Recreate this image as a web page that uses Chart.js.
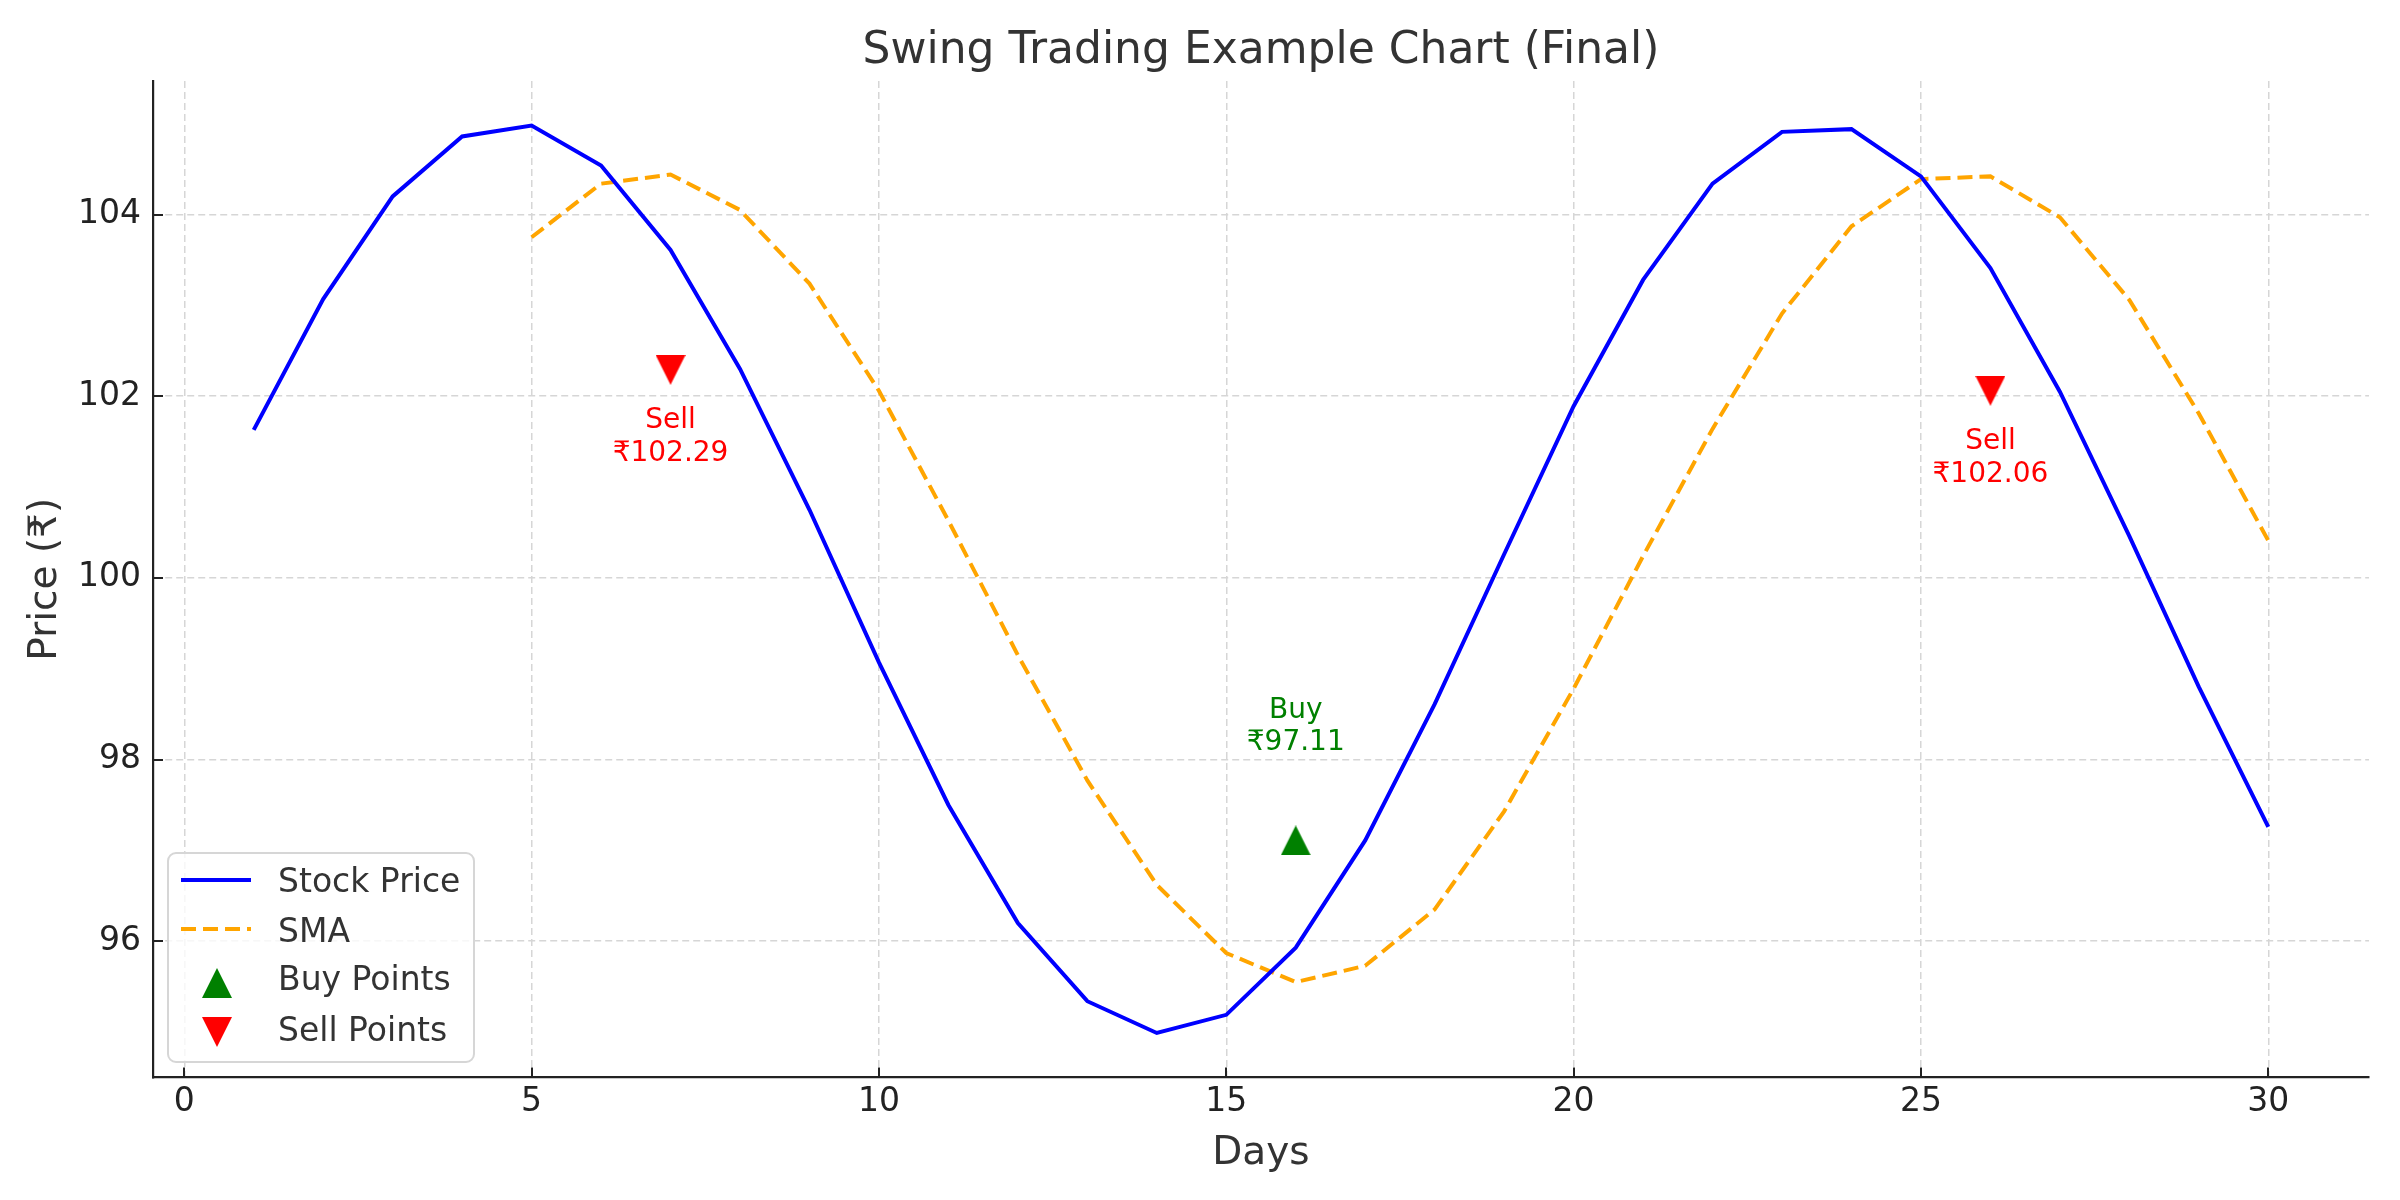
<!DOCTYPE html>
<html lang="en">
<head>
    <meta charset="UTF-8">
    <title>Swing Trading Example Chart (Final)</title>
    <script src="https://cdn.jsdelivr.net/npm/chart.js"></script>
    <style>
        html, body { margin: 0; padding: 0; background: #fff; }
        #wrap { width: 2400px; height: 1200px; }
    </style>
</head>
<body>
    <div id="wrap">
        <canvas id="swingChart" width="2400" height="1200"></canvas>
    </div>

    <script>
        // Data
        const days = [1, 2, 3, 4, 5, 6, 7, 8, 9, 10, 11, 12, 13, 14, 15,
                      16, 17, 18, 19, 20, 21, 22, 23, 24, 25, 26, 27, 28, 29, 30];
        const stockPrice = [101.63, 103.07, 104.20, 104.86, 104.98, 104.54, 103.61, 102.30, 100.75, 99.07,
                            97.50, 96.20, 95.34, 94.99, 95.19, 95.93, 97.11, 98.61, 100.26, 101.89,
                            103.28, 104.34, 104.91, 104.94, 104.42, 103.41, 102.05, 100.46, 98.80, 97.26];
        const smaDays = [5, 6, 7, 8, 9, 10, 11, 12, 13, 14, 15, 16, 17,
                         18, 19, 20, 21, 22, 23, 24, 25, 26, 27, 28, 29, 30];
        const smaValues = [103.75, 104.34, 104.44, 104.05, 103.24, 102.06, 100.63, 99.15, 97.77, 96.62, 95.87, 95.55, 95.73,
                           96.35, 97.43, 98.78, 100.24, 101.64, 102.91, 103.87, 104.39, 104.42, 103.97, 103.06, 101.81, 100.41];
        const buyDays = [16];
        const buyPrices = [97.11];
        const sellDays = [7, 26];
        const sellPrices = [102.29, 102.06];
        const xTicks = [0, 5, 10, 15, 20, 25, 30];
        const yTicks = [96, 98, 100, 102, 104];

        const FONT = "'DejaVu Sans', sans-serif";
        const TEXT = '#333333';
        const AXIS = '#222222';

        // matplotlib-like triangle markers (width == height)
        function triangle(color, up) {
            const c = document.createElement('canvas');
            c.width = 30; c.height = 30;
            const g = c.getContext('2d');
            g.fillStyle = color;
            g.beginPath();
            if (up) {
                g.moveTo(15, 0); g.lineTo(30, 30); g.lineTo(0, 30);
            } else {
                g.moveTo(0, 0); g.lineTo(30, 0); g.lineTo(15, 30);
            }
            g.closePath();
            g.fill();
            return c;
        }
        const upTri = triangle('#008000', true);
        const downTri = triangle('#ff0000', false);

        const pairs = (xs, ys) => xs.map((x, i) => ({ x: x, y: ys[i] }));

        // inward tick marks, title, axis titles, annotations and legend
        const extras = {
            id: 'extras',
            afterDraw(chart) {
                const ctx = chart.ctx;
                const area = chart.chartArea;
                const xs = chart.scales.x, ys = chart.scales.y;
                ctx.save();

                ctx.strokeStyle = AXIS;
                ctx.lineWidth = 2;
                ctx.beginPath();
                xTicks.forEach(v => {
                    const px = Math.round(xs.getPixelForValue(v));
                    ctx.moveTo(px, area.bottom);
                    ctx.lineTo(px, area.bottom - 10);
                });
                yTicks.forEach(v => {
                    const py = Math.round(ys.getPixelForValue(v));
                    ctx.moveTo(area.left, py);
                    ctx.lineTo(area.left + 10, py);
                });
                ctx.stroke();

                ctx.textAlign = 'center';
                ctx.textBaseline = 'alphabetic';
                ctx.fillStyle = TEXT;
                ctx.font = '44px ' + FONT;
                ctx.fillText('Swing Trading Example Chart (Final)', (area.left + area.right) / 2, 63);

                ctx.font = '39px ' + FONT;
                ctx.textBaseline = 'middle';
                ctx.fillText('Days', (area.left + area.right) / 2, 1154);
                ctx.save();
                ctx.translate(46, (area.top + area.bottom) / 2);
                ctx.rotate(-Math.PI / 2);
                ctx.fillText('Price (₹)', 0, 0);
                ctx.restore();

                // annotations
                ctx.textBaseline = 'alphabetic';
                ctx.font = '28px ' + FONT;
                ctx.fillStyle = '#ff0000';
                sellDays.forEach((d, i) => {
                    const px = xs.getPixelForValue(d);
                    const py = ys.getPixelForValue(sellPrices[i]);
                    ctx.fillText('Sell', px, py + 58);
                    ctx.fillText('₹' + sellPrices[i].toFixed(2), px, py + 91);
                });
                ctx.fillStyle = '#008000';
                buyDays.forEach((d, i) => {
                    const px = xs.getPixelForValue(d);
                    const py = ys.getPixelForValue(buyPrices[i]);
                    ctx.fillText('Buy', px, py - 122);
                    ctx.fillText('₹' + buyPrices[i].toFixed(2), px, py - 90);
                });

                // legend box
                const lx = 168, ly = 853, lw = 306, lh = 209, r = 8;
                ctx.beginPath();
                ctx.moveTo(lx + r, ly);
                ctx.arcTo(lx + lw, ly, lx + lw, ly + lh, r);
                ctx.arcTo(lx + lw, ly + lh, lx, ly + lh, r);
                ctx.arcTo(lx, ly + lh, lx, ly, r);
                ctx.arcTo(lx, ly, lx + lw, ly, r);
                ctx.closePath();
                ctx.fillStyle = 'rgba(255,255,255,0.8)';
                ctx.fill();
                ctx.strokeStyle = '#d6d6d6';
                ctx.lineWidth = 2;
                ctx.stroke();

                const handleY = [880, 929, 983, 1032];
                const textY = [892, 942, 990, 1041];
                chart.data.datasets.forEach((ds, i) => {
                    if (ds.type === 'line') {
                        ctx.beginPath();
                        ctx.setLineDash(ds.borderDash || []);
                        ctx.strokeStyle = ds.borderColor;
                        ctx.lineWidth = ds.borderWidth;
                        ctx.moveTo(181, handleY[i]);
                        ctx.lineTo(251, handleY[i]);
                        ctx.stroke();
                        ctx.setLineDash([]);
                    } else {
                        ctx.drawImage(ds.pointStyle, 217 - 15, handleY[i] - 15);
                    }
                    ctx.fillStyle = TEXT;
                    ctx.font = '33px ' + FONT;
                    ctx.textAlign = 'left';
                    ctx.fillText(ds.label, 278, textY[i]);
                });
                ctx.restore();
            }
        };

        const gridOpts = {
            color: '#d6d6d6',
            lineWidth: 1.5,
            drawTicks: false
        };

        new Chart(document.getElementById('swingChart').getContext('2d'), {
            data: {
                datasets: [
                    {
                        type: 'line',
                        label: 'Stock Price',
                        data: pairs(days, stockPrice),
                        borderColor: '#0000ff',
                        borderWidth: 4,
                        pointRadius: 0,
                        tension: 0
                    },
                    {
                        type: 'line',
                        label: 'SMA',
                        data: pairs(smaDays, smaValues),
                        borderColor: '#ffa500',
                        borderWidth: 4,
                        borderDash: [15, 7],
                        pointRadius: 0,
                        tension: 0
                    },
                    {
                        type: 'scatter',
                        label: 'Buy Points',
                        data: pairs(buyDays, buyPrices),
                        pointStyle: upTri,
                        radius: 15
                    },
                    {
                        type: 'scatter',
                        label: 'Sell Points',
                        data: pairs(sellDays, sellPrices),
                        pointStyle: downTri,
                        radius: 15
                    }
                ]
            },
            options: {
                responsive: false,
                animation: false,
                devicePixelRatio: 1,
                layout: { padding: { left: 0, top: 81, right: 31, bottom: 0 } },
                plugins: {
                    legend: { display: false },
                    title: { display: false },
                    tooltip: { enabled: false }
                },
                scales: {
                    x: {
                        type: 'linear',
                        min: -0.45,
                        max: 31.45,
                        afterFit: s => { s.height = 122.5; },
                        afterBuildTicks: s => { s.ticks = xTicks.map(v => ({ value: v })); },
                        grid: gridOpts,
                        border: { display: true, color: AXIS, width: 2.2, dash: [7, 4] },
                        ticks: {
                            color: AXIS,
                            font: { family: FONT, size: 33 },
                            padding: 5,
                            maxRotation: 0
                        }
                    },
                    y: {
                        type: 'linear',
                        min: 94.5,
                        max: 105.47,
                        afterFit: s => { s.width = 153; },
                        afterBuildTicks: s => { s.ticks = yTicks.map(v => ({ value: v })); },
                        grid: gridOpts,
                        border: { display: true, color: AXIS, width: 2.2, dash: [7, 4] },
                        ticks: {
                            color: AXIS,
                            font: { family: FONT, size: 33 },
                            padding: 12
                        }
                    }
                }
            },
            plugins: [extras]
        });
    </script>
</body>
</html>
